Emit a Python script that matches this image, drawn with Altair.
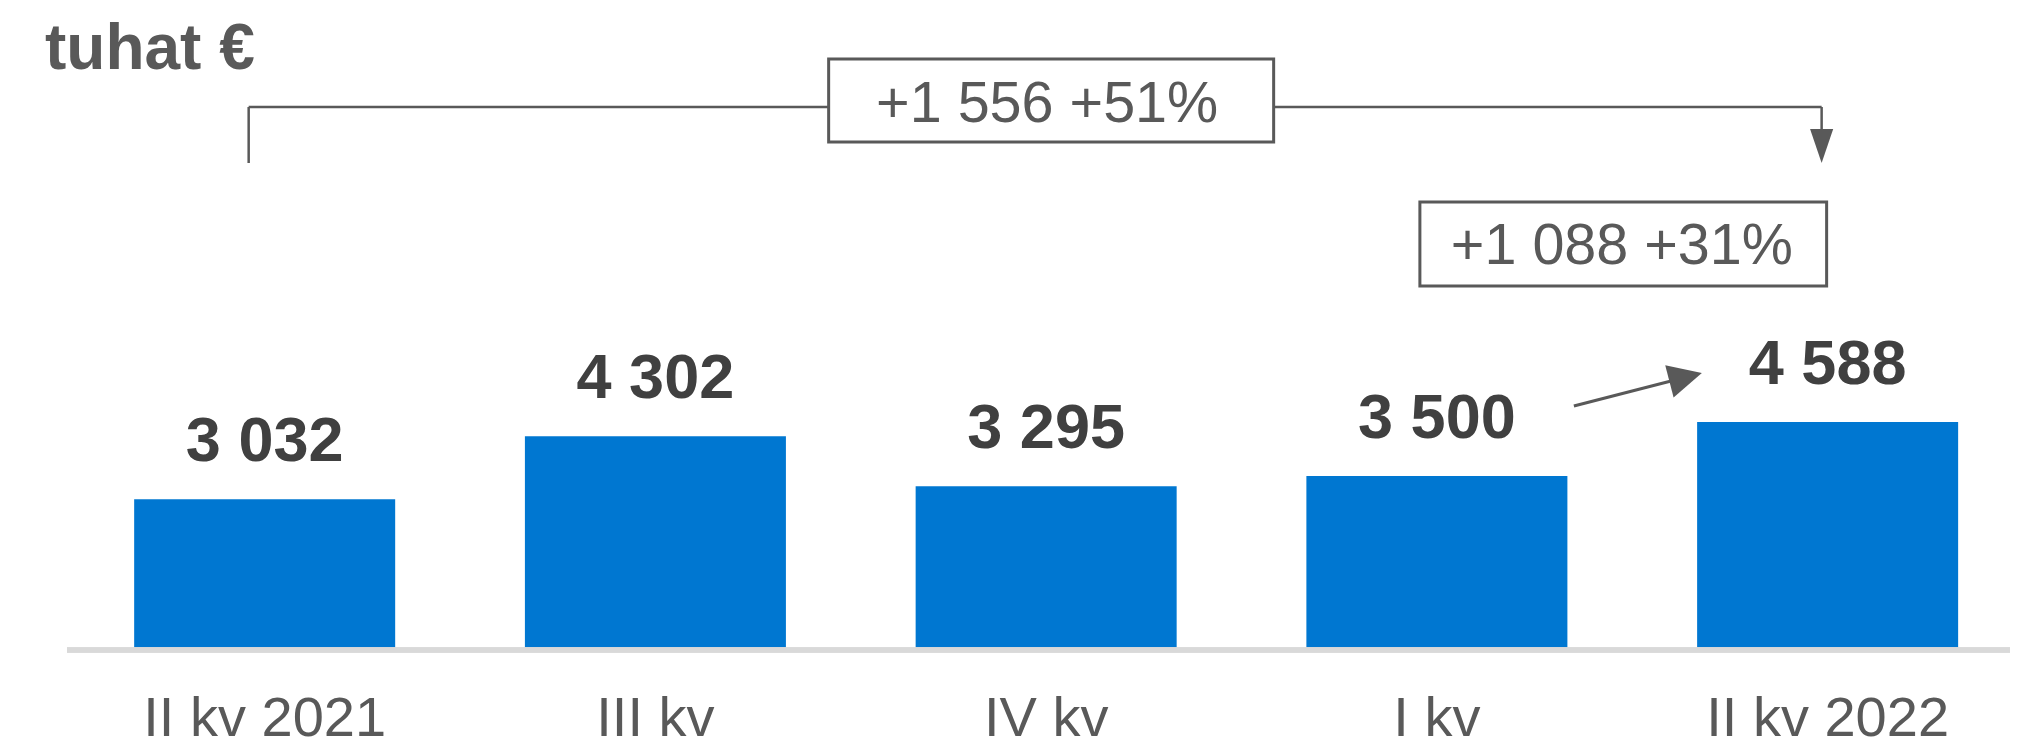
import altair as alt
import pandas as pd

# ---- data ----
categories = ["II kv 2021", "III kv", "IV kv", "I kv", "II kv 2022"]
values = [3032, 4302, 3295, 3500, 4588]
unit_label = "tuhat €"


def fmt(n):
    return f"{n:,}".replace(",", " ")


def change_text(a, b):
    d = b - a
    return f"+{fmt(d)} +{round(d / a * 100)}%"


bars_df = pd.DataFrame({"kv": categories, "value": values,
                        "label": [fmt(v) for v in values]})

year_df = pd.DataFrame({"a": [categories[0]], "b": [categories[-1]],
                        "m": [categories[len(categories) // 2]],
                        "t": [change_text(values[0], values[-1])]})
qoq_df = pd.DataFrame({"a": [categories[-2]], "b": [categories[-1]],
                       "t": [change_text(values[-2], values[-1])]})
title_df = pd.DataFrame({"t": [unit_label]})

# ---- style ----
FONT = "Liberation Sans"
GRAY = "#595959"
DARK = "#404040"
BLUE = "#0077d1"
W, PLOT_H, BOTTOM = 2002, 642, 97

x_scale = alt.Scale(domain=categories, range=[61.3, 2015], round=False,
                    paddingInner=0.332, paddingOuter=0.166)
y_scale = alt.Scale(domain=[0, 5000], range=[642, 393.5], nice=False, zero=True)


def xc(field):
    return alt.X(field, type="nominal", scale=x_scale, axis=None, bandPosition=0.5)


def xc2(field):
    return alt.X2(field, bandPosition=0.5)


base = alt.Chart(bars_df)

bars = base.mark_bar(color=BLUE).encode(
    x=alt.X("kv:N", scale=x_scale, sort=categories, axis=None),
    y=alt.Y("value:Q", scale=y_scale, axis=None),
)

value_labels = base.mark_text(font=FONT, fontSize=63, fontWeight="bold",
                              color=DARK, baseline="alphabetic", dy=-38).encode(
    x=alt.X("kv:N", scale=x_scale, axis=None),
    y=alt.Y("value:Q", scale=y_scale, axis=None),
    text="label:N",
)

cat_labels = base.mark_text(font=FONT, fontSize=56, color=GRAY,
                            baseline="alphabetic").encode(
    x=alt.X("kv:N", scale=x_scale, axis=None),
    y=alt.value(728),
    text="kv:N",
)

baseline = base.mark_rule(color="#d9d9d9", strokeWidth=5).encode(
    x=alt.value(59), x2=alt.value(W), y=alt.value(642)
)

title = alt.Chart(title_df).mark_text(font=FONT, fontSize=64, fontWeight="bold",
                                      color=GRAY, align="left",
                                      baseline="alphabetic").encode(
    x=alt.value(37), y=alt.value(61), text="t:N"
)

# ---- year-over-year bracket ----
yr = alt.Chart(year_df)
br_h = yr.mark_rule(color=GRAY, strokeWidth=2.5, xOffset=-16, x2Offset=-6).encode(
    x=xc("a"), x2=xc2("b"), y=alt.value(99),
)
br_l = yr.mark_rule(color=GRAY, strokeWidth=2.5, xOffset=-16).encode(
    x=xc("a"), y=alt.value(99), y2=alt.value(155),
)
br_r = yr.mark_rule(color=GRAY, strokeWidth=2.5, xOffset=-6).encode(
    x=xc("b"), y=alt.value(99), y2=alt.value(128),
)
br_head = yr.mark_point(shape="M-0.68,-1L0.68,-1L0,1Z", filled=True, size=1156,
                        color=GRAY, opacity=1, strokeWidth=0, xOffset=-6).encode(
    x=xc("b"), y=alt.value(138),
)
yr_box = yr.mark_rect(fill="white", stroke=GRAY, strokeWidth=3,
                      xOffset=-217.5, x2Offset=227.5).encode(
    x=xc("m"), x2=xc2("m"), y=alt.value(51), y2=alt.value(134),
)
yr_text = yr.mark_text(font=FONT, fontSize=57.5, color=GRAY,
                       baseline="alphabetic", xOffset=1).encode(
    x=xc("m"), y=alt.value(114), text="t:N",
)

# ---- quarter-over-quarter arrow ----
qq = alt.Chart(qoq_df)
qq_line = qq.mark_rule(color=GRAY, strokeWidth=3, xOffset=137, x2Offset=-142).encode(
    x=xc("a"), x2=xc2("b"), y=alt.value(398), y2=alt.value(369.2),
)
qq_head = qq.mark_point(shape="M-1,-1L1,0L-1,1Z", filled=True, size=1122,
                        angle=345.5, color=GRAY, opacity=1, strokeWidth=0,
                        xOffset=-142).encode(
    x=xc("b"), y=alt.value(369.2),
)
qq_box = qq.mark_rect(fill="white", stroke=GRAY, strokeWidth=3,
                      xOffset=-17, x2Offset=-1).encode(
    x=xc("a"), x2=xc2("b"), y=alt.value(194), y2=alt.value(278),
)
qq_text = qq.mark_text(font=FONT, fontSize=57.5, color=GRAY,
                       baseline="alphabetic", xOffset=185).encode(
    x=xc("a"), y=alt.value(256), text="t:N",
)

chart = alt.layer(
    bars, baseline, value_labels, cat_labels, title,
    br_h, br_l, br_r, br_head, yr_box, yr_text,
    qq_line, qq_head, qq_box, qq_text,
).properties(
    width=W, height=PLOT_H, background="white",
    autosize=alt.AutoSizeParams(type="none"),
    padding={"left": 0, "top": 0, "right": 0, "bottom": BOTTOM},
).configure_view(strokeWidth=0, stroke=None)

chart.save("out.html", embed_options={"renderer": "svg", "actions": False})
